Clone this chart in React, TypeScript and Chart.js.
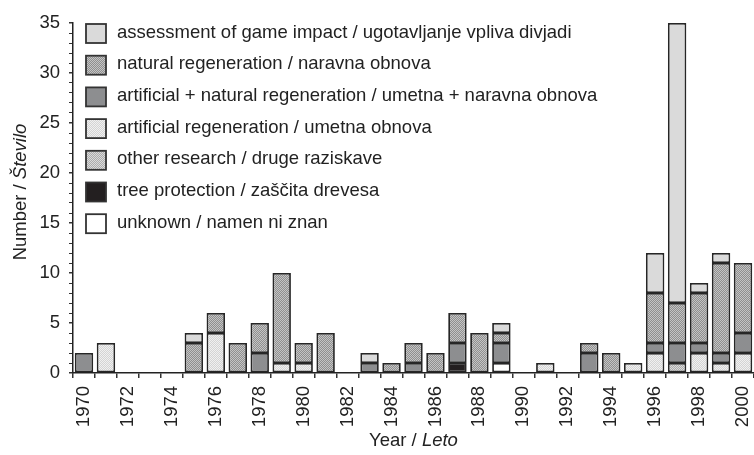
import React, { useEffect, useRef } from 'react';
import { Chart, registerables } from 'chart.js';
Chart.register(...registerables);

const years = ['1970','1971','1972','1973','1974','1975','1976','1977','1978','1979','1980','1981','1982','1983','1984','1985','1986','1987','1988','1989','1990','1991','1992','1993','1994','1995','1996','1997','1998','1999','2000'];

// stacked bottom -> top
const unknown    = [0,0,0,0,0, 0,0,0,0,0, 0,0,0,0,0, 0,0,0,0,1, 0,0,0,0,0, 0,0,0,0,0, 0];
const treeProt   = [0,0,0,0,0, 0,0,0,0,0, 0,0,0,0,0, 0,0,1,0,0, 0,0,0,0,0, 0,0,0,0,0, 0];
const otherRes   = [0,0,0,0,0, 0,0,0,0,0, 0,0,0,0,0, 0,0,0,0,0, 0,0,0,0,0, 0,0,1,0,0, 0];
const artificial = [0,3,0,0,0, 0,4,0,0,1, 1,0,0,0,0, 0,0,0,0,0, 0,1,0,0,0, 1,2,0,2,1, 2];
const artNat     = [2,0,0,0,0, 0,0,0,2,0, 0,0,0,1,0, 1,0,2,0,2, 0,0,0,2,0, 0,1,2,1,1, 2];
const natural    = [0,0,0,0,0, 3,2,3,3,9, 2,4,0,0,1, 2,2,3,4,1, 0,0,0,1,2, 0,5,4,5,9, 7];
const assessment = [0,0,0,0,0, 1,0,0,0,0, 0,0,0,1,0, 0,0,0,0,1, 0,0,0,0,0, 0,4,28,1,1, 0];

const seriesLabels = [
  'unknown / namen ni znan',
  'tree protection / zaščita drevesa',
  'other research / druge raziskave',
  'artificial regeneration / umetna obnova',
  'artificial + natural regeneration / umetna + naravna obnova',
  'natural regeneration / naravna obnova',
  'assessment of game impact / ugotavljanje vpliva divjadi',
];
const seriesData = [unknown, treeProt, otherRes, artificial, artNat, natural, assessment];

const yTitleA = 'Number / ';
const yTitleB = 'Število';
const xTitleA = 'Year / ';
const xTitleB = 'Leto';

const FONT = '"Liberation Sans", Arial, sans-serif';
const FS = 18.5;

function checker(a: string, b: string) {
  const c = document.createElement('canvas');
  c.width = 2; c.height = 2;
  const x = c.getContext('2d')!;
  x.fillStyle = a; x.fillRect(0, 0, 2, 2);
  x.fillStyle = b; x.fillRect(0, 0, 1, 1); x.fillRect(1, 1, 1, 1);
  return x.createPattern(c, 'repeat')!;
}

export default function App() {
  const ref = useRef<HTMLCanvasElement>(null);
  useEffect(() => {
    const fills: any[] = [
      '#ffffff',
      '#231f20',
      checker('#acacac', '#dadada'),
      checker('#d4d4d4', '#f0f0f0'),
      '#8d8e90',
      checker('#8f8f8f', '#c4c4c4'),
      '#dadada',
    ];
    const overlay = {
      id: 'overlay',
      afterDraw(chart: any) {
        const ctx = chart.ctx as CanvasRenderingContext2D;
        const xs = chart.scales.x;
        ctx.save();
        ctx.fillStyle = '#222';
        ctx.textBaseline = 'middle';
        // x tick labels (every second year, rotated)
        ctx.font = `${FS}px ${FONT}`;
        years.forEach((yr, i) => {
          if (i % 2 !== 0) return;
          const px = xs.getPixelForValue(i);
          ctx.save();
          ctx.translate(px, 386);
          ctx.rotate(-Math.PI / 2);
          ctx.textAlign = 'right';
          ctx.fillText(yr, 0, 0);
          ctx.restore();
        });
        // legend
        for (let i = 0; i < 7; i++) {
          const si = 6 - i;
          const top = 24 + i * 31.7;
          ctx.fillStyle = fills[si];
          ctx.fillRect(86, top, 20, 19);
          ctx.lineWidth = 1.8;
          ctx.strokeStyle = '#333';
          ctx.strokeRect(86, top, 20, 19);
          ctx.fillStyle = '#222';
          ctx.font = `${FS}px ${FONT}`;
          ctx.textAlign = 'left';
          ctx.fillText(seriesLabels[si], 117, top + 8.5);
        }
        // x title
        ctx.font = `${FS}px ${FONT}`;
        const wa = ctx.measureText(xTitleA).width;
        ctx.font = `italic ${FS}px ${FONT}`;
        const wb = ctx.measureText(xTitleB).width;
        const cx = (chart.chartArea.left + chart.chartArea.right) / 2;
        const sx = cx - (wa + wb) / 2;
        ctx.textAlign = 'left';
        ctx.font = `${FS}px ${FONT}`;
        ctx.fillText(xTitleA, sx, 441);
        ctx.font = `italic ${FS}px ${FONT}`;
        ctx.fillText(xTitleB, sx + wa, 441);
        // y title
        ctx.translate(21, 192);
        ctx.rotate(-Math.PI / 2);
        ctx.font = `${FS}px ${FONT}`;
        const ya = ctx.measureText(yTitleA).width;
        ctx.font = `italic ${FS}px ${FONT}`;
        const yb = ctx.measureText(yTitleB).width;
        const sy = -(ya + yb) / 2;
        ctx.font = `${FS}px ${FONT}`;
        ctx.fillText(yTitleA, sy, 0);
        ctx.font = `italic ${FS}px ${FONT}`;
        ctx.fillText(yTitleB, sy + ya, 0);
        ctx.restore();
      },
    };
    const chart = new Chart(ref.current!, {
      type: 'bar',
      data: {
        labels: years,
        datasets: seriesData.map((d, i) => ({
          label: seriesLabels[i],
          data: d.map((v) => (v === 0 ? null : v)),
          backgroundColor: fills[i],
          borderColor: '#262626',
          borderWidth: 1.8,
          borderSkipped: false,
          barPercentage: 0.84,
          categoryPercentage: 1,
        })),
      },
      options: {
        animation: false,
        responsive: true,
        maintainAspectRatio: false,
        layout: { padding: { top: 23, left: 0, right: 0, bottom: 0 } },
        plugins: { legend: { display: false }, tooltip: { enabled: false } },
        font: { family: FONT, size: FS },
        scales: {
          x: {
            stacked: true,
            grid: { display: true, drawOnChartArea: false, drawTicks: true, tickLength: 5, color: '#333', lineWidth: 1.5, offset: true },
            border: { display: true, color: '#222', width: 1.5 },
            ticks: { display: false, autoSkip: false },
            afterFit: (s: any) => { s.height = 82; },
          },
          y: {
            stacked: true, min: 0, max: 35,
            ticks: {
              stepSize: 1, autoSkip: false, padding: 9, color: '#222',
              font: { family: FONT, size: FS },
              callback: (v: any) => (Number(v) % 5 === 0 ? String(v) : ''),
            },
            grid: {
              drawOnChartArea: false, tickLength: 4, color: '#333',
              lineWidth: (c: any) => (c.tick && c.tick.value % 5 === 0 ? 1.5 : 1),
            },
            border: { display: true, color: '#222', width: 1.5 },
            afterFit: (s: any) => { s.width = 73; },
          },
        },
      } as any,
      plugins: [overlay],
    });
    return () => chart.destroy();
  }, []);
  return (
    <div style={{ position: 'fixed', left: 0, top: 0, width: 754, height: 455 }}>
      <canvas ref={ref} />
    </div>
  );
}
